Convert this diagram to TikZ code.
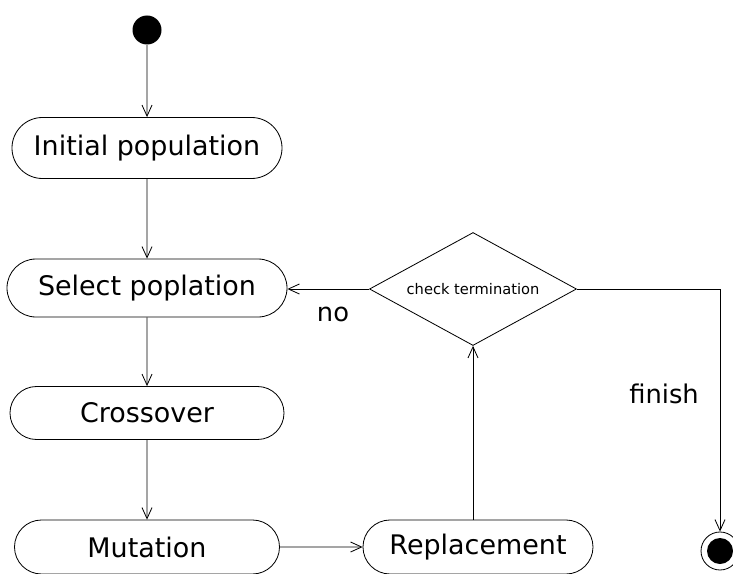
\documentclass[tikz,border=0pt]{standalone}
\usepackage{fontspec}
\setmainfont{DejaVu Sans}
\usetikzlibrary{arrows.meta}
\usetikzlibrary{shapes.geometric, shapes.misc}

\begin{document}
\begin{tikzpicture}[x=0.3mm, y=-0.3mm, line width=0.7pt,
    activity/.style={rounded rectangle, draw, inner sep=0pt, font=\fontsize{23}{27}\selectfont},
    decision/.style={diamond, draw, inner sep=0pt, aspect=1.83, minimum width=62.1mm, minimum height=33.9mm, font=\fontsize{12.5}{15}\selectfont},
    flow/.style={-{Straight Barb[length=3.3mm, width=3mm]}},
    lbl/.style={font=\fontsize{22}{26}\selectfont}]
    \useasboundingbox (0,0) rectangle (733,573);

    \node[circle, fill, inner sep=0pt, minimum size=8.7mm] (start) at (147,30) {};
    \node[activity, minimum width=81mm, minimum height=18.3mm] (init) at (147,148) {Initial population};
    \node[activity, minimum width=84mm, minimum height=17.4mm] (sel) at (147,288) {Select poplation};
    \node[activity, minimum width=82.2mm, minimum height=15.9mm] (cross) at (147,413) {Crossover};
    \node[activity, minimum width=79.5mm, minimum height=16.2mm] (mut) at (147,547) {Mutation};
    \node[activity, minimum width=69mm, minimum height=16.2mm] (rep) at (478,547) {Replacement};
    \node[decision] (chk) at (473,289) {check termination};
    \node[circle, draw, inner sep=0pt, minimum size=11.4mm] (fin) at (720,551) {};
    \fill (fin) circle (13);

    \node[lbl] (no) at (333,314) {no};
    \node[lbl] (finish) at (664,394) {finish};

    \draw[flow] (start) -- (init);
    \draw[flow] (init) -- (sel);
    \draw[flow] (sel) -- (cross);
    \draw[flow] (cross) -- (mut);
    \draw[flow] (mut) -- (rep);
    \draw[flow] (rep.north -| chk.south) -- (chk.south);
    \draw[flow] (chk.west) -- (sel.east |- chk.west);
    \draw[flow] (chk.east) -| (fin.north);
\end{tikzpicture}
\end{document}
